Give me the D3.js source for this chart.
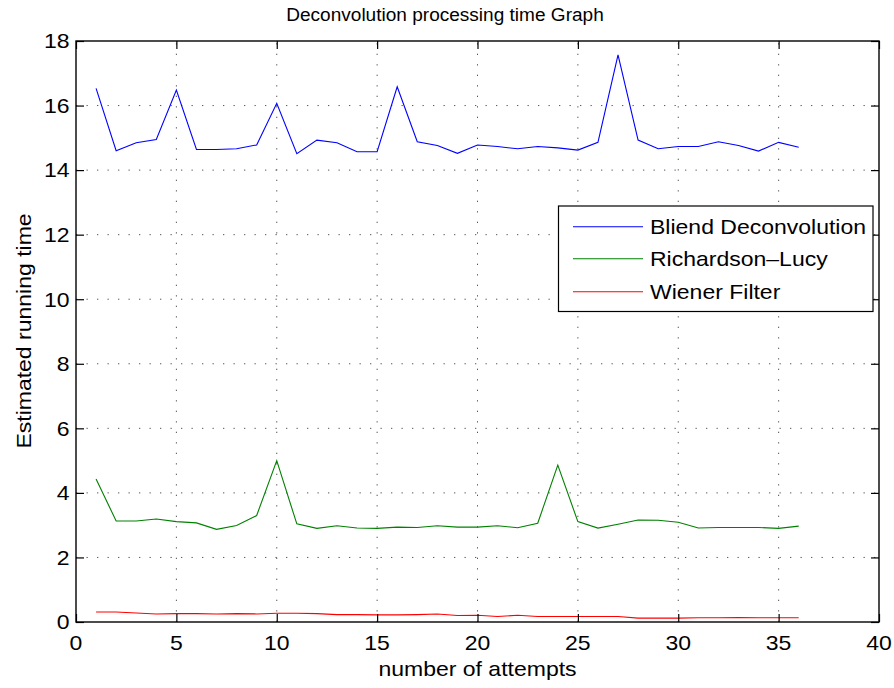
<!DOCTYPE html>
<html>
<head>
<meta charset="utf-8">
<script src="https://cdn.jsdelivr.net/npm/d3@7"></script>
<style>
  html, body { margin: 0; padding: 0; background: #fff; }
  svg { display: block; }
  text { font-family: "Liberation Sans", Arial, Helvetica, sans-serif; fill: #000; }
</style>
</head>
<body>
<svg id="chart" width="894" height="688"></svg>
<script>
// Attempt numbers 1..36
const attempts = [1,2,3,4,5,6,7,8,9,10,11,12,13,14,15,16,17,18,19,20,21,22,23,24,25,26,27,28,29,30,31,32,33,34,35,36];

// Running times per method
const blindDeconv = [16.53,14.60,14.85,14.95,16.48,14.64,14.64,14.66,14.78,16.07,14.51,14.93,14.85,14.57,14.57,16.58,14.88,14.76,14.52,14.78,14.73,14.66,14.73,14.69,14.62,14.86,17.57,14.93,14.66,14.73,14.73,14.88,14.76,14.59,14.86,14.71];
const richardsonLucy = [4.43,3.13,3.13,3.19,3.11,3.07,2.87,2.99,3.30,5.00,3.04,2.90,2.98,2.91,2.90,2.94,2.93,2.98,2.94,2.94,2.98,2.92,3.06,4.86,3.11,2.91,3.03,3.16,3.15,3.09,2.91,2.93,2.93,2.93,2.90,2.97];
const wienerFilter = [0.31,0.31,0.28,0.25,0.26,0.26,0.25,0.26,0.25,0.27,0.27,0.26,0.23,0.23,0.22,0.22,0.23,0.25,0.20,0.21,0.17,0.21,0.17,0.17,0.17,0.17,0.17,0.12,0.12,0.12,0.13,0.13,0.14,0.13,0.13,0.13];

const seriesNames = ["Bliend Deconvolution", "Richardson\u2013Lucy", "Wiener Filter"];
const seriesColors = ["#0000ff", "#008000", "#ff0000"];

const xTicks = [0,5,10,15,20,25,30,35,40];
const yTicks = [0,2,4,6,8,10,12,14,16,18];

const titleText = "Deconvolution processing time Graph";
const xLabelText = "number of attempts";
const yLabelText = "Estimated running time";

const svg = d3.select("#chart");
const plotL = 76, plotR = 879, plotT = 41, plotB = 622;

const x = d3.scaleLinear().domain([0, 40]).range([plotL, plotR]);
const y = d3.scaleLinear().domain([0, 18]).range([plotB, plotT]);

const FS = 20, SX = 1.15;

// dotted grid
const grid = svg.append("g").attr("stroke", "#555").attr("stroke-width", 1)
  .attr("stroke-dasharray", "1.3,9.2").attr("fill", "none");
xTicks.filter(t => t > 0 && t < 40).forEach(t => {
  grid.append("line").attr("x1", x(t)).attr("x2", x(t)).attr("y1", plotB).attr("y2", plotT);
});
yTicks.filter(t => t > 0 && t < 18).forEach(t => {
  grid.append("line").attr("x1", plotL).attr("x2", plotR).attr("y1", y(t)).attr("y2", y(t));
});

// series lines
const line = d3.line().x((d, i) => x(attempts[i])).y(d => y(d));
[blindDeconv, richardsonLucy, wienerFilter].forEach((vals, k) => {
  svg.append("path").datum(vals).attr("d", line)
    .attr("fill", "none").attr("stroke", seriesColors[k]).attr("stroke-width", 1.1)
    .attr("stroke-linejoin", "miter");
});

// axes with inward ticks on all four sides
const tickLen = 8;
const axB = d3.axisBottom(x).tickValues(xTicks).tickSize(-tickLen).tickFormat("");
const axT = d3.axisTop(x).tickValues(xTicks).tickSize(-tickLen).tickFormat("");
const axL = d3.axisLeft(y).tickValues(yTicks).tickSize(-tickLen).tickFormat("");
const axR = d3.axisRight(y).tickValues(yTicks).tickSize(-tickLen).tickFormat("");
[[axB, `translate(0,${plotB})`], [axT, `translate(0,${plotT})`],
 [axL, `translate(${plotL},0)`], [axR, `translate(${plotR},0)`]].forEach(([ax, tr]) => {
  const g = svg.append("g").attr("transform", tr).call(ax);
  g.select(".domain").remove();
  g.selectAll("line").attr("stroke", "#000").attr("stroke-width", 1.2);
});
svg.append("rect").attr("x", plotL).attr("y", plotT).attr("width", plotR - plotL).attr("height", plotB - plotT)
  .attr("fill", "none").attr("stroke", "#000").attr("stroke-width", 1.4);

// tick labels
svg.append("g").selectAll("text").data(xTicks).join("text")
  .attr("transform", d => `translate(${x(d)},650) scale(${SX},1)`)
  .attr("text-anchor", "middle").attr("font-size", FS).text(d => d);
svg.append("g").selectAll("text").data(yTicks).join("text")
  .attr("transform", d => `translate(69.5,${y(d) + 7.3}) scale(${SX},1)`)
  .attr("text-anchor", "end").attr("font-size", FS).text(d => d);

// title and axis labels
svg.append("text").attr("transform", `translate(445,21) scale(1.03,1)`)
  .attr("text-anchor", "middle").attr("font-size", 18.5).text(titleText);
svg.append("text").attr("transform", `translate(477.5,676) scale(${SX},1)`)
  .attr("text-anchor", "middle").attr("font-size", FS).text(xLabelText);
svg.append("text").attr("transform", `translate(31,331) rotate(-90) scale(${SX},1)`)
  .attr("text-anchor", "middle").attr("font-size", FS).text(yLabelText);

// legend
const lg = svg.append("g");
lg.append("rect").attr("x", 558.5).attr("y", 206).attr("width", 314.5).attr("height", 105.5)
  .attr("fill", "#fff").attr("stroke", "#000").attr("stroke-width", 1.2);
const rowY = [226.7, 258.8, 291.7];
seriesNames.forEach((name, k) => {
  lg.append("line").attr("x1", 573).attr("x2", 643).attr("y1", rowY[k]).attr("y2", rowY[k])
    .attr("stroke", seriesColors[k]).attr("stroke-width", 1.1);
  lg.append("text").attr("transform", `translate(650,${rowY[k] + 7.6}) scale(${SX},1)`)
    .attr("font-size", FS).text(name);
});
</script>
</body>
</html>
